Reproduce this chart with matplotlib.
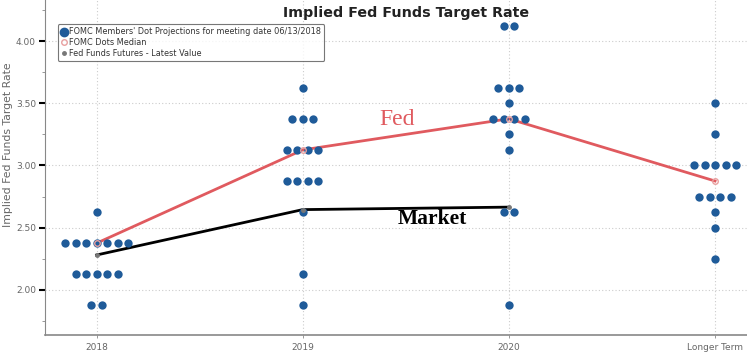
import matplotlib
matplotlib.use('Agg')
import matplotlib.pyplot as plt
import numpy as np

# categories
years = ['2018', '2019', '2020', 'Longer Term']

# FOMC dot projections: rate level -> number of dots, per category
dots = {
    '2018': {2.625: 1, 2.375: 7, 2.125: 5, 1.875: 2},
    '2019': {3.625: 1, 3.375: 3, 3.125: 4, 2.875: 4, 2.625: 1, 2.125: 1, 1.875: 1},
    '2020': {4.125: 2, 3.625: 3, 3.5: 1, 3.375: 4, 3.25: 1, 3.125: 1, 2.625: 2, 1.875: 1},
    'Longer Term': {3.5: 1, 3.25: 1, 3.0: 5, 2.75: 4, 2.625: 1, 2.5: 1, 2.25: 1},
}
median = [2.375, 3.125, 3.375, 2.875]
futures = [2.28, 2.645, 2.665]

blue = '#1f5b99'
red = '#e05a5f'
gray_txt = '#666666'

fig = plt.figure(figsize=(7.47, 3.59), dpi=100)
ax = fig.add_axes([45/747, 24/359, 1 - 45/747, 1 - 24/359])

# dots, spread horizontally around category
step = 0.051
for i, yr in enumerate(years):
    for lvl, n in dots[yr].items():
        xs = i + (np.arange(n) - (n - 1) / 2) * step
        ax.scatter(xs, [lvl] * n, s=36, color=blue, zorder=3, linewidths=0)

ax.plot(range(len(median)), median, color=red, lw=2, zorder=2)
ax.plot(range(len(median)), median, 'o', mfc='none', mec='#e8a0a0', ms=4, zorder=4)
ax.plot(range(len(futures)), futures, color='black', lw=2, zorder=2)
ax.plot(range(len(futures)), futures, 'o', color='#777777', ms=2.5, zorder=4)

# legend proxies
h1 = ax.scatter([], [], s=36, color=blue)
h2, = ax.plot([], [], 'o', mfc='none', mec='#e8a0a0', ms=4, ls='none')
h3, = ax.plot([], [], 'o', color='#777777', ms=2.5, ls='none')
leg = ax.legend([h1, h2, h3],
                ["FOMC Members' Dot Projections for meeting date 06/13/2018",
                 'FOMC Dots Median', 'Fed Funds Futures - Latest Value'],
                loc='upper left', bbox_to_anchor=(0.012, 0.94), fontsize=5.9,
                frameon=True, fancybox=True, edgecolor='#555555', handletextpad=0.3,
                borderpad=0.35, labelspacing=0.25, handlelength=0.8, labelcolor='#333333')
leg.get_frame().set_linewidth(0.8)

ax.set_xlim(-0.25, 3.155)
ax.set_ylim(1.637, 4.33)
ax.set_xticks(range(len(years)))
ax.set_xticklabels(years, fontsize=6.5, color=gray_txt)
ax.set_yticks([2.0, 2.5, 3.0, 3.5, 4.0])
ax.set_yticklabels(['2.00', '2.50', '3.00', '3.50', '4.00'], fontsize=6.5, color=gray_txt)
ax.set_yticks(np.arange(1.75, 4.3, 0.25), minor=True)
ax.tick_params(axis='y', which='major', length=4, width=1.5, color='black', pad=2.5)
ax.tick_params(axis='y', which='minor', length=2, width=0.6, color='#888888')
ax.tick_params(axis='x', length=2, width=0.6, color='#888888')
ax.grid(True, axis='both', ls=(0, (1, 2)), color='#cccccc', lw=0.8)
ax.set_axisbelow(True)

for s in ['top', 'right']:
    ax.spines[s].set_visible(False)
ax.spines['left'].set_color('#888888')
ax.spines['bottom'].set_color('#888888')
ax.spines['bottom'].set_linewidth(1.2)

ax.set_ylabel('Implied Fed Funds Target Rate', fontsize=7.8, color=gray_txt)
ax.yaxis.set_label_coords(-0.046, 0.567)
ax.set_xlabel('Projection Year Fed', fontsize=8.5, color='#444444', labelpad=6)

fig.text(0.544, 0.965, 'Implied Fed Funds Target Rate', ha='center', va='center',
         fontsize=10.3, fontweight='bold', color='#222222')

ax.text(1.46, 3.37, 'Fed', color=red, fontsize=17, family='Liberation Serif', ha='center', va='center')
ax.text(1.63, 2.57, 'Market', color='black', fontsize=15.5, fontweight='bold',
        family='Liberation Serif', ha='center', va='center')

fig.savefig('out.png', dpi=100)
